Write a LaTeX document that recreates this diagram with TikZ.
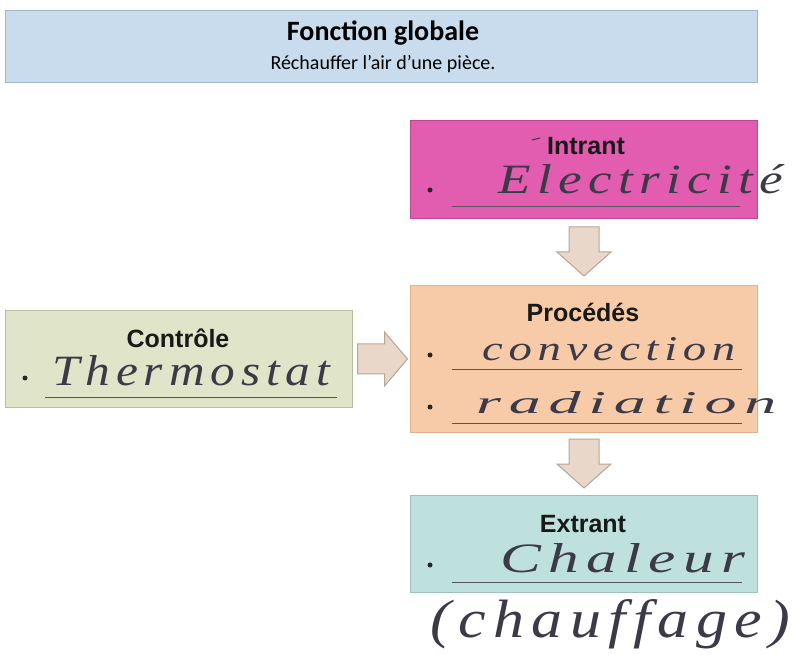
\documentclass[tikz,border=0pt]{standalone}
\usepackage{fontspec}
\setmainfont{Carlito}
\newfontfamily\labf{Liberation Sans}
\newfontfamily\handf[LetterSpace=12]{Liberation Serif}
\usetikzlibrary{calc}
\definecolor{topfill}{HTML}{C9DCEE}
\definecolor{topdraw}{HTML}{A3B6C8}
\definecolor{infill}{HTML}{E25CB0}
\definecolor{indraw}{HTML}{B94A91}
\definecolor{prfill}{HTML}{F8CBA8}
\definecolor{prdraw}{HTML}{E2B28E}
\definecolor{cofill}{HTML}{E0E4C8}
\definecolor{codraw}{HTML}{B9BDA0}
\definecolor{exfill}{HTML}{BFE1DE}
\definecolor{exdraw}{HTML}{9DC2BE}
\definecolor{arfill}{HTML}{E9D8C9}
\definecolor{ardraw}{HTML}{B4A696}
\definecolor{handcol}{HTML}{3C3A48}
\definecolor{linecol}{HTML}{55555F}
\tikzset{
  box/.style={line width=1pt, inner sep=0pt, anchor=north west},
  label/.style={font=\labf\bfseries\fontsize{25}{25}\selectfont, text=black!90, inner sep=0pt, anchor=base},
  hand/.style={text=handcol, inner sep=0pt, anchor=base west},
  uline/.style={draw=linecol, line width=1pt},
  fatarrow/.style={fill=arfill, draw=ardraw, line width=1pt, line join=miter},
  bullet/.style={fill=black!85}
}
\begin{document}
\begin{tikzpicture}[x=1pt,y=-1pt]
\useasboundingbox[fill=white] (0,0) rectangle (796,655);

% boxes
\node[box, fill=topfill, draw=topdraw, minimum width=752pt, minimum height=72pt] (top) at (5,10) {};
\node[box, fill=infill, draw=indraw, minimum width=347pt, minimum height=98pt] (intrant) at (410,120) {};
\node[box, fill=prfill, draw=prdraw, minimum width=347pt, minimum height=147pt] (proc) at (410,285) {};
\node[box, fill=cofill, draw=codraw, minimum width=347pt, minimum height=97pt] (ctrl) at (5,310) {};
\node[box, fill=exfill, draw=exdraw, minimum width=347pt, minimum height=97pt] (extr) at (410,495) {};

% top texts
\node[font=\bfseries\fontsize{28}{28}\selectfont, inner sep=0pt, anchor=base] (ttl) at (383,41) {Fonction globale};
\node[font=\fontsize{20}{20}\selectfont, inner sep=0pt, anchor=base] (sub) at (383,70) {Réchauffer l’air d’une pièce.};

% labels
\node[label] (lin) at (586,155) {Intrant};
\node[label] (lpr) at (583,322) {Procédés};
\node[label] (lco) at (178,348) {Contrôle};
\node[label] (lex) at (583,532) {Extrant};

% arrows
\coordinate (a1) at ($(intrant.south)!0.5!(proc.north)$);
\coordinate (a2) at ($(proc.south)!0.5!(extr.north)$);
\coordinate (a3) at ($(ctrl.east)!0.5!(proc.west)$);
\begin{scope}[shift={(a1)}]
  \draw[fatarrow] (-15,-25) -- (15,-25) -- (15,0) -- (27,0) -- (0,24) -- (-27,0) -- (-15,0) -- cycle;
\end{scope}
\begin{scope}[shift={(a2)}]
  \draw[fatarrow] (-15,-25) -- (15,-25) -- (15,0) -- (27,0) -- (0,24) -- (-27,0) -- (-15,0) -- cycle;
\end{scope}
\begin{scope}[shift={(a3)}]
  \draw[fatarrow] (-24,-15) -- (3,-15) -- (3,-27) -- (26,0) -- (3,27) -- (3,15) -- (-24,15) -- cycle;
\end{scope}

% bullets
\fill[bullet] (430,190) circle (2.5);
\fill[bullet] (25,378) circle (2.5);
\fill[bullet] (430,355) circle (2.5);
\fill[bullet] (430,407) circle (2.5);
\fill[bullet] (430,565) circle (2.5);

% underlines
\draw[uline] (452,207) -- (740,207);
\draw[uline] (45,397) -- (337,397);
\draw[uline] (452,370) -- (742,370);
\draw[uline] (452,423) -- (742,423);
\draw[uline] (452,582) -- (742,582);

% stray mark
\draw[draw=handcol, line width=1pt] (532,140) -- (540,138);

% handwriting
\node[hand] (h1) at (498,194) {\resizebox{285pt}{29pt}{\handf\itshape Electricité}};
\node[hand] (h2) at (52,386) {\resizebox{278pt}{30pt}{\handf\itshape Thermostat}};
\node[hand] (h3) at (482,361) {\resizebox{253pt}{23pt}{\handf\itshape convection}};
\node[hand] (h4) at (476,413) {\resizebox{300pt}{22pt}{\handf\itshape radiation}};
\node[hand] (h5) at (500,572) {\resizebox{245pt}{29pt}{\handf\itshape Chaleur}};
\node[hand] (h6) at (430,637) {\resizebox{360pt}{38pt}{\handf\itshape (chauffage)}};
\end{tikzpicture}
\end{document}
